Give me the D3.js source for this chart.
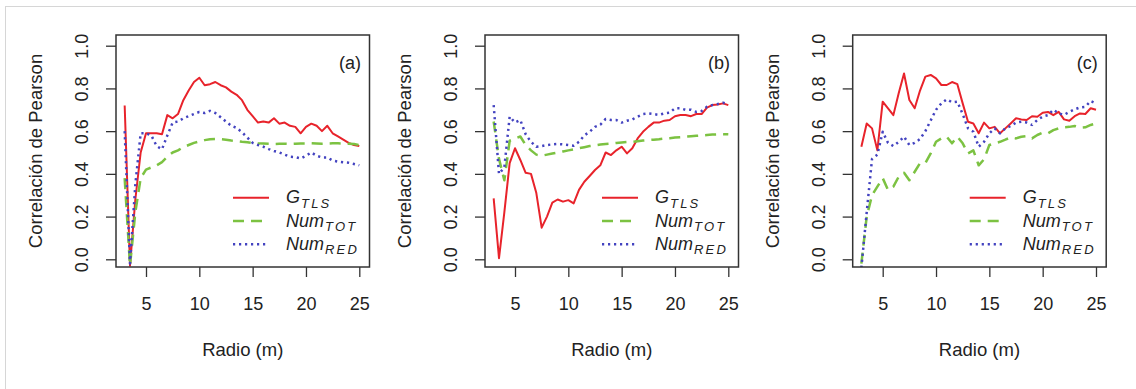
<!DOCTYPE html>
<html>
<head>
<meta charset="utf-8">
<script src="https://cdn.jsdelivr.net/npm/d3@7"></script>
<style>
  body { margin: 0; background: #fff; }
  text { font-family: "Liberation Sans", Arial, sans-serif; fill: #222; }
</style>
</head>
<body>
<div id="chart"></div>
<script>
// Radius values (m)
const radio = [3, 3.5, 4, 4.5, 5, 5.5, 6, 6.5, 7, 7.5, 8, 8.5, 9, 9.5, 10, 10.5, 11, 11.5, 12, 12.5,
               13, 13.5, 14, 14.5, 15, 15.5, 16, 16.5, 17, 17.5, 18, 18.5, 19, 19.5, 20, 20.5, 21, 21.5,
               22, 22.5, 23, 23.5, 24, 24.5, 25];

// Panel (a)
const gTlsA = [0.72, -0.03, 0.28, 0.50, 0.59, 0.59, 0.59, 0.585, 0.675, 0.66, 0.68, 0.745, 0.79, 0.83, 0.85,
               0.815, 0.82, 0.83, 0.815, 0.805, 0.785, 0.77, 0.745, 0.70, 0.67, 0.64, 0.645, 0.64, 0.66, 0.635,
               0.64, 0.625, 0.62, 0.59, 0.62, 0.635, 0.625, 0.60, 0.625, 0.59, 0.575, 0.56, 0.545, 0.535, 0.53];
const numTotA = [0.38, -0.03, 0.22, 0.38, 0.42, 0.43, 0.44, 0.455, 0.48, 0.50, 0.51, 0.525, 0.535, 0.545, 0.552,
                 0.558, 0.562, 0.563, 0.562, 0.56, 0.556, 0.553, 0.55, 0.548, 0.545, 0.543, 0.542, 0.541, 0.54, 0.541,
                 0.541, 0.54, 0.541, 0.542, 0.542, 0.543, 0.542, 0.541, 0.542, 0.543, 0.543, 0.542, 0.541, 0.54, 0.535];
const numRedA = [0.60, -0.02, 0.35, 0.59, 0.59, 0.58, 0.53, 0.515, 0.58, 0.64, 0.645, 0.66, 0.67, 0.68, 0.69,
                 0.685, 0.695, 0.685, 0.665, 0.645, 0.625, 0.615, 0.595, 0.57, 0.545, 0.535, 0.527, 0.516, 0.507, 0.50,
                 0.49, 0.48, 0.478, 0.472, 0.485, 0.50, 0.485, 0.477, 0.477, 0.462, 0.457, 0.454, 0.452, 0.446, 0.44];

// Panel (b)
const gTlsB = [0.285, 0.005, 0.22, 0.45, 0.52, 0.465, 0.405, 0.40, 0.31, 0.148, 0.20, 0.265, 0.28, 0.27, 0.277,
               0.262, 0.325, 0.363, 0.39, 0.418, 0.44, 0.50, 0.488, 0.51, 0.527, 0.496, 0.52, 0.566, 0.597, 0.62,
               0.64, 0.64, 0.649, 0.652, 0.67, 0.676, 0.676, 0.67, 0.68, 0.68, 0.71, 0.722, 0.725, 0.73, 0.722];
const numTotB = [0.645, 0.47, 0.37, 0.555, 0.565, 0.575, 0.535, 0.51, 0.49, 0.485, 0.49, 0.495, 0.50, 0.505, 0.51,
                 0.515, 0.52, 0.525, 0.53, 0.533, 0.537, 0.54, 0.542, 0.545, 0.547, 0.549, 0.55, 0.553, 0.556, 0.558,
                 0.56, 0.562, 0.565, 0.567, 0.57, 0.572, 0.574, 0.576, 0.578, 0.58, 0.582, 0.584, 0.585, 0.586, 0.585];
const numRedB = [0.722, 0.40, 0.43, 0.668, 0.64, 0.652, 0.585, 0.55, 0.527, 0.53, 0.535, 0.538, 0.54, 0.538, 0.535,
                 0.532, 0.55, 0.58, 0.597, 0.62, 0.63, 0.657, 0.652, 0.652, 0.64, 0.649, 0.655, 0.668, 0.68, 0.683,
                 0.68, 0.676, 0.683, 0.686, 0.707, 0.707, 0.70, 0.70, 0.69, 0.694, 0.714, 0.722, 0.727, 0.733, 0.725];

// Panel (c)
const gTlsC = [0.527, 0.636, 0.613, 0.51, 0.738, 0.707, 0.675, 0.777, 0.87, 0.746, 0.707, 0.79, 0.855, 0.863, 0.847,
               0.816, 0.816, 0.83, 0.82, 0.73, 0.644, 0.636, 0.59, 0.64, 0.613, 0.62, 0.59, 0.613, 0.636, 0.66,
               0.655, 0.652, 0.67, 0.667, 0.686, 0.69, 0.675, 0.69, 0.655, 0.649, 0.67, 0.683, 0.68, 0.707, 0.70];
const numTotC = [-0.02, 0.20, 0.30, 0.34, 0.38, 0.325, 0.34, 0.387, 0.405, 0.37, 0.41, 0.45, 0.45, 0.496, 0.55,
                 0.566, 0.574, 0.543, 0.574, 0.543, 0.496, 0.51, 0.44, 0.468, 0.535, 0.543, 0.55, 0.56, 0.571, 0.566,
                 0.574, 0.577, 0.566, 0.582, 0.593, 0.59, 0.605, 0.613, 0.618, 0.62, 0.624, 0.616, 0.618, 0.629, 0.636];
const numRedC = [-0.04, 0.22, 0.47, 0.49, 0.597, 0.545, 0.53, 0.55, 0.574, 0.535, 0.545, 0.563, 0.60, 0.65, 0.70,
                 0.73, 0.749, 0.735, 0.738, 0.68, 0.613, 0.597, 0.527, 0.55, 0.59, 0.613, 0.59, 0.613, 0.624, 0.64,
                 0.644, 0.64, 0.629, 0.652, 0.668, 0.675, 0.70, 0.683, 0.676, 0.69, 0.702, 0.711, 0.714, 0.741, 0.73];

const xTicks = [5, 10, 15, 20, 25];
const yTicks = [0, 0.2, 0.4, 0.6, 0.8, 1.0];
const panelLabels = ["(a)", "(b)", "(c)"];

const panels = [
    {label: panelLabels[0], left: 116, series: [gTlsA, numTotA, numRedA]},
    {label: panelLabels[1], left: 485, series: [gTlsB, numTotB, numRedB]},
    {label: panelLabels[2], left: 852.7, series: [gTlsC, numTotC, numRedC]}
];

// Line styles for G_TLS, Num_TOT, Num_RED
const styles = [
    {name: "G", sub: "TLS", color: "#e8232b", width: 2, dash: null},
    {name: "Num", sub: "TOT", color: "#7cc242", width: 2.5, dash: "11,7"},
    {name: "Num", sub: "RED", color: "#4343c0", width: 2.5, dash: "2.2,3.8"}
];

const W = 1136, H = 389;
const boxW = 253.5, boxTop = 35, boxBottom = 267;

const svg = d3.select("#chart")
    .append("svg")
    .attr("width", W)
    .attr("height", H);

// faint frame around the figure
svg.append("rect")
    .attr("x", 5.5).attr("y", 6.5)
    .attr("width", 1140).attr("height", 400)
    .attr("fill", "none")
    .attr("stroke", "#d6d6d6")
    .attr("stroke-width", 1);

const yScale = d3.scaleLinear().domain([0, 1]).range([259.3, 45.7]);

panels.forEach(p => drawPanel(p));

function drawPanel(p) {
    const g = svg.append("g");
    const xScale = d3.scaleLinear().domain([5, 25]).range([p.left + 30, p.left + 243.3]);

    // y axis
    const yAxis = d3.axisLeft(yScale)
        .tickValues(yTicks)
        .tickSize(10)
        .tickFormat(d3.format(".1f"));
    const ya = g.append("g")
        .attr("transform", `translate(${p.left},0)`)
        .call(yAxis);
    ya.select(".domain").remove();
    ya.selectAll(".tick line").attr("stroke", "#333").attr("stroke-width", 1.3);
    ya.selectAll(".tick text")
        .attr("x", 0).attr("y", 0).attr("dy", null)
        .attr("transform", "translate(-28,0) rotate(-90)")
        .attr("text-anchor", "middle")
        .style("font-size", "18px")
        .style("fill", "#222");

    // x axis
    const xAxis = d3.axisBottom(xScale)
        .tickValues(xTicks)
        .tickSize(10)
        .tickFormat(d3.format("d"));
    const xa = g.append("g")
        .attr("transform", `translate(0,${boxBottom})`)
        .call(xAxis);
    xa.select(".domain").remove();
    xa.selectAll(".tick line").attr("stroke", "#333").attr("stroke-width", 1.3);
    xa.selectAll(".tick text")
        .attr("y", 43).attr("dy", null)
        .style("font-size", "18px")
        .style("fill", "#222");

    // clip lines to the plot box
    const clipId = "clip" + p.label.replace(/[()]/g, "");
    svg.append("clipPath").attr("id", clipId)
        .append("rect")
        .attr("x", p.left).attr("y", boxTop)
        .attr("width", boxW).attr("height", boxBottom - boxTop);

    const line = d3.line()
        .x((d, i) => xScale(radio[i]))
        .y(d => yScale(d));

    p.series.forEach((s, k) => {
        g.append("path")
            .datum(s)
            .attr("clip-path", `url(#${clipId})`)
            .attr("d", line)
            .attr("fill", "none")
            .attr("stroke", styles[k].color)
            .attr("stroke-width", styles[k].width)
            .attr("stroke-dasharray", styles[k].dash)
            .attr("stroke-linejoin", "round");
    });

    // plot box
    g.append("rect")
        .attr("x", p.left).attr("y", boxTop)
        .attr("width", boxW).attr("height", boxBottom - boxTop)
        .attr("fill", "none")
        .attr("stroke", "#333")
        .attr("stroke-width", 1.5);

    // panel label
    g.append("text")
        .attr("x", p.left + 245).attr("y", 68.5)
        .attr("text-anchor", "end")
        .style("font-size", "18px")
        .text(p.label);

    // axis titles
    g.append("text")
        .attr("transform", `translate(${p.left - 74},151) rotate(-90)`)
        .attr("text-anchor", "middle")
        .style("font-size", "18.5px")
        .text("Correlación de Pearson");

    g.append("text")
        .attr("x", p.left + boxW / 2).attr("y", 356)
        .attr("text-anchor", "middle")
        .style("font-size", "18.5px")
        .text("Radio (m)");

    addLegend(g, p.left);
}

function addLegend(g, left) {
    const rows = [197.7, 221, 244.3];
    styles.forEach((st, k) => {
        g.append("line")
            .attr("x1", left + 117).attr("x2", left + 153)
            .attr("y1", rows[k]).attr("y2", rows[k])
            .attr("stroke", st.color)
            .attr("stroke-width", st.width)
            .attr("stroke-dasharray", st.dash);

        const t = g.append("text")
            .attr("x", left + 170)
            .attr("y", rows[k] + 5.5)
            .style("font-size", "18px")
            .style("font-style", "italic");
        t.append("tspan").text(st.name);
        t.append("tspan")
            .attr("dx", 1)
            .attr("dy", 4.5)
            .style("font-size", "13px")
            .style("letter-spacing", "2.2px")
            .text(st.sub);
    });
}
</script>
</body>
</html>
